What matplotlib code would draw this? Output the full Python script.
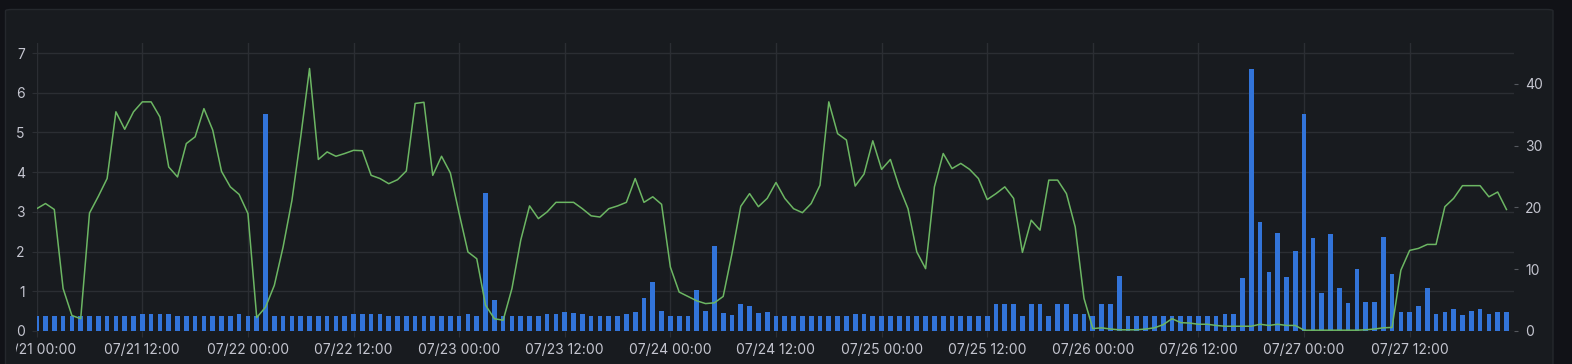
import matplotlib
matplotlib.use("Agg")
import matplotlib.pyplot as plt
import matplotlib.dates as mdates
from matplotlib.patches import FancyBboxPatch
from matplotlib.transforms import Bbox, TransformedBbox
import pandas as pd

plt.rcParams['font.family'] = ['Inter', 'DejaVu Sans']

# --- data: hourly samples starting 07/21 00:00 ---
START = "2021-07-21 00:00"

# green line, left axis
line_values = [
    3.08, 3.21, 3.06, 1.07, 0.39, 0.31, 2.97, 3.39, 3.84, 5.52, 5.08, 5.52,
    5.77, 5.77, 5.39, 4.13, 3.88, 4.72, 4.89, 5.60, 5.06, 4.02, 3.63, 3.44,
    2.96, 0.34, 0.60, 1.15, 2.12, 3.29, 4.89, 6.61, 4.32, 4.51, 4.40, 4.47,
    4.55, 4.54, 3.92, 3.84, 3.71, 3.81, 4.03, 5.73, 5.76, 3.92, 4.40, 3.98,
    2.96, 1.99, 1.82, 0.65, 0.31, 0.27, 1.07, 2.29, 3.15, 2.83, 3.00, 3.24,
    3.24, 3.24, 3.08, 2.90, 2.87, 3.08, 3.15, 3.24, 3.84, 3.24, 3.38, 3.19,
    1.61, 0.98, 0.87, 0.76, 0.69, 0.71, 0.87, 1.95, 3.14, 3.46, 3.13, 3.34,
    3.74, 3.34, 3.08, 2.98, 3.21, 3.67, 5.77, 4.97, 4.81, 3.65, 3.95, 4.79,
    4.07, 4.32, 3.63, 3.08, 1.99, 1.57, 3.63, 4.47, 4.09, 4.22, 4.07, 3.84,
    3.31, 3.46, 3.63, 3.34, 1.98, 2.79, 2.54, 3.80, 3.80, 3.46, 2.62, 0.82,
    0.06, 0.08, 0.05, 0.03, 0.03, 0.03, 0.05, 0.08, 0.16, 0.31, 0.21, 0.20,
    0.17, 0.17, 0.14, 0.12, 0.12, 0.12, 0.12, 0.17, 0.14, 0.17, 0.14, 0.14,
    0.02, 0.02, 0.02, 0.02, 0.02, 0.02, 0.02, 0.03, 0.05, 0.08, 0.09, 1.53,
    2.03, 2.08, 2.18, 2.18, 3.13, 3.34, 3.66, 3.66, 3.66, 3.38, 3.50, 3.06,
]

# blue bars, right axis
bar_values = [
    2.5, 2.5, 2.5, 2.5, 2.5, 2.5, 2.5, 2.5, 2.5, 2.5, 2.5, 2.5,
    2.7, 2.7, 2.7, 2.7, 2.5, 2.5, 2.5, 2.5, 2.5, 2.5, 2.5, 2.7,
    2.5, 2.5, 35.2, 2.5, 2.5, 2.5, 2.5, 2.5, 2.5, 2.5, 2.5, 2.5,
    2.7, 2.7, 2.7, 2.7, 2.5, 2.5, 2.5, 2.5, 2.5, 2.5, 2.5, 2.5,
    2.5, 2.7, 2.5, 22.4, 5.1, 2.5, 2.5, 2.5, 2.5, 2.5, 2.7, 2.7,
    3.1, 2.9, 2.7, 2.5, 2.5, 2.5, 2.5, 2.8, 3.1, 5.3, 8.0, 3.3,
    2.5, 2.5, 2.5, 6.6, 3.3, 13.7, 2.9, 2.65, 4.4, 4.1, 2.9, 3.1,
    2.5, 2.5, 2.5, 2.5, 2.5, 2.5, 2.5, 2.5, 2.5, 2.7, 2.7, 2.5,
    2.5, 2.5, 2.5, 2.5, 2.5, 2.5, 2.5, 2.5, 2.5, 2.5, 2.5, 2.5,
    2.5, 4.4, 4.4, 4.4, 2.5, 4.4, 4.4, 2.5, 4.4, 4.4, 2.7, 2.7,
    2.5, 4.4, 4.4, 8.9, 2.5, 2.5, 2.5, 2.5, 2.5, 2.5, 2.5, 2.5,
    2.5, 2.5, 2.5, 2.7, 2.7, 8.6, 42.5, 17.7, 9.6, 15.9, 8.8, 13.0,
    35.2, 15.1, 6.1, 15.7, 7.0, 4.5, 10.0, 4.7, 4.7, 15.3, 9.2, 3.0,
    3.0, 4.1, 7.0, 2.8, 3.0, 3.6, 2.65, 3.2, 3.5, 2.8, 3.0, 3.0,
]

left_ticks = [0, 1, 2, 3, 4, 5, 6, 7]
right_ticks = [0, 10, 20, 30, 40]

# --- colours (grafana dark) ---
BG_OUTER = '#111217'
BG_PANEL = '#181b1f'
GRID = '#2b2e33'
TEXT = '#c4c5cf'
BLUE = '#3274d9'
GREEN = '#6cb663'

W, H = 1572, 364
times = pd.date_range(START, periods=len(line_values), freq='h')

fig = plt.figure(figsize=(W / 100, H / 100), dpi=100, facecolor=BG_OUTER)

# panel box (behind the axes)
panel = FancyBboxPatch((5.5 / W, -0.1), (1553 - 5.5) / W, 1.1 - 9.5 / H,
                       boxstyle="round,pad=0,rounding_size=0.004",
                       transform=fig.transFigure, facecolor=BG_PANEL,
                       edgecolor='#25282d', linewidth=1, zorder=-10)
fig.patches.append(panel)

x0, x1 = 36.7, 1514.0
y_top, y_zero = 42.7, 331.0
px_per_hour = 8.801
ax = fig.add_axes([x0 / W, (H - y_zero) / H, (x1 - x0) / W, (y_zero - y_top) / H])
ax.set_facecolor('none')

t0 = times[0]
t_end = t0 + pd.Timedelta(hours=(x1 - x0) / px_per_hour)
ax.set_xlim(t0, t_end)
left_max = (y_zero - y_top) / 39.71
right_max = left_max * 6.43
ax.set_ylim(0, left_max)

# grid on the bottom axes
ax.set_yticks(left_ticks)
xt = pd.date_range(START, periods=14, freq='12h')
ax.set_xticks(xt)
ax.xaxis.set_major_formatter(mdates.DateFormatter('%m/%d %H:%M'))
ax.grid(True, color=GRID, linewidth=1)
for s in ax.spines.values():
    s.set_visible(False)
ax.tick_params(axis='y', length=3.6, color=GRID, labelcolor=TEXT, labelsize=10, pad=5)
ax.tick_params(axis='x', length=4.3, color=GRID, labelcolor=TEXT, labelsize=10, pad=4)

# bars on right axis
ax2 = ax.twinx()
ax2.bar(times, bar_values, width=0.53 / 24, color=BLUE, linewidth=0)
ax2.set_ylim(0, right_max)
ax2.set_yticks(right_ticks)
ax2.tick_params(axis='y', length=3, color='#55585e', labelcolor=TEXT, labelsize=10, pad=5)
for s in ax2.spines.values():
    s.set_visible(False)

# line on top
ax3 = ax.twinx()
ax3.plot(times, line_values, color=GREEN, linewidth=1.1)
ax3.set_ylim(0, left_max)
ax3.set_yticks([])
for s in ax3.spines.values():
    s.set_visible(False)
ax3.set_xlim(t0, t_end)

# first time label is cut by the panel edge
clip = TransformedBbox(Bbox.from_extents(16 / W, 0, 1, 1), fig.transFigure)
for tick in ax.xaxis.get_major_ticks():
    tick.label1.set_clip_box(clip)
    tick.label1.set_clip_on(True)

fig.savefig('out.png', dpi=100, facecolor=BG_OUTER)
